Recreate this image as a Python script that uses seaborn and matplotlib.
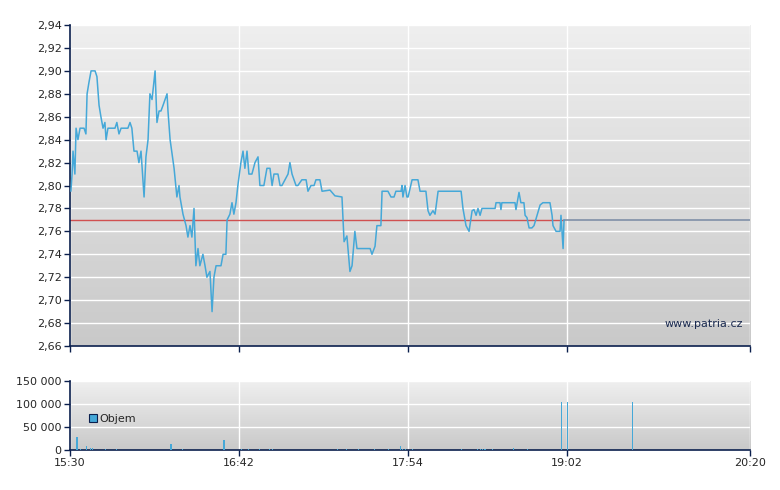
import numpy as np
import pandas as pd
import matplotlib
matplotlib.use("Agg")
import matplotlib.pyplot as plt
import seaborn as sns

# minutes after 15:30
price_min = [0.4,0.9,1.3,2.1,2.6,3.4,4.3,6.0,6.8,7.3,8.1,9.0,10.7,11.5,12.4,13.2,14.1,14.9,15.4,16.2,19.2,20.0,20.9,21.8,24.7,25.6,26.4,27.3,28.6,29.4,30.3,31.6,32.4,33.3,34.1,35.0,36.3,37.1,38.0,38.8,39.7,41.4,41.8,42.7,44.4,45.6,46.5,46.9,48.2,49.5,50.3,51.2,52.0,52.9,53.7,54.6,55.4,56.7,57.6,58.4,59.7,60.6,61.4,62.3,64.4,65.3,66.5,67.0,68.2,69.1,69.9,70.8,71.6,72.9,73.8,74.6,75.5,76.3,77.6,78.9,80.2,81.0,82.7,84.0,85.3,86.2,87.0,88.7,89.6,90.4,93.0,93.8,94.7,96.4,97.2,98.9,100.7,101.5,102.8,104.1,104.9,106.6,107.5,
             110.9,113.0,116.0,116.9,118.1,119.4,120.3,121.5,122.4,123.7,128.0,128.8,130.1,130.9,132.6,133.1,135.6,136.9,138.2,139.0,141.2,141.6,142.0,142.9,143.7,144.2,145.9,148.4,149.3,151.8,152.7,153.5,154.8,155.7,157.0,166.8,167.6,168.9,170.2,171.5,172.3,173.2,174.0,174.9,175.7,181.3,181.7,183.4,183.8,184.2,189.8,190.2,191.5,192.3,193.6,194.1,194.9,195.8,197.0,197.9,200.5,201.7,204.7,205.6,206.0,207.3,209.0,209.4,210.3,210.7]
price_val = [2.795,2.81,2.83,2.81,2.85,2.84,2.85,2.85,2.845,2.88,2.89,2.90,2.90,2.895,2.87,2.86,2.85,2.855,2.84,2.85,2.85,2.855,2.845,2.85,2.85,2.855,2.85,2.83,2.83,2.82,2.83,2.79,2.825,2.84,2.88,2.875,2.90,2.855,2.865,2.865,2.87,2.88,2.865,2.84,2.815,2.79,2.80,2.79,2.775,2.765,2.755,2.765,2.755,2.78,2.73,2.745,2.73,2.74,2.73,2.72,2.725,2.69,2.72,2.73,2.73,2.74,2.74,2.77,2.775,2.785,2.775,2.785,2.80,2.82,2.83,2.815,2.83,2.81,2.81,2.82,2.825,2.80,2.80,2.815,2.815,2.80,2.81,2.81,2.80,2.80,2.81,2.82,2.81,2.80,2.80,2.805,2.805,2.795,2.80,2.80,2.805,2.805,2.795,
             2.796,2.791,2.79,2.751,2.756,2.725,2.73,2.76,2.745,2.745,2.745,2.74,2.747,2.765,2.765,2.795,2.795,2.79,2.79,2.795,2.795,2.80,2.79,2.80,2.79,2.79,2.805,2.805,2.795,2.795,2.778,2.774,2.778,2.775,2.795,2.795,2.78,2.765,2.76,2.778,2.779,2.774,2.78,2.774,2.78,2.78,2.785,2.785,2.779,2.785,2.785,2.779,2.794,2.785,2.785,2.774,2.772,2.763,2.763,2.765,2.783,2.785,2.785,2.774,2.765,2.76,2.76,2.774,2.745,2.77]
ref_price = 2.77
vol_min = [3.0,4.5,7.2,8.6,9.5,15.0,20.0,42.9,43.2,48.0,65.4,66.1,73.0,76.0,81.0,85.0,86.5,114.0,118.0,123.0,130.0,136.0,141.0,142.0,143.0,146.0,167.0,174.0,175.0,176.0,177.0,180.0,189.0,195.0,209.8,212.2,240.1]
vol_val = [29000,2000,8000,5000,5000,2500,1500,13000,13000,2000,22000,22000,2000,2000,2000,1500,1500,3000,3000,2500,2000,2000,8000,2500,2500,1500,2000,2000,2000,2000,2000,2000,4000,3000,105000,105000,105000]
tick_labels = ["15:30","16:42","17:54","19:02","20:20"]
tick_pos = [0,72,144,212,290]

sns.set_theme(style="white")
fig = plt.figure(figsize=(7.8,4.9), dpi=100)
ax = fig.add_axes([0.0897,0.2939,0.8718,0.655])
ax2 = fig.add_axes([0.0897,0.0816,0.8718,0.1408])
grad = np.linspace(0,1,256).reshape(-1,1)
cmap = matplotlib.colors.LinearSegmentedColormap.from_list("g",["#efefef","#c9c9c9"])
for a in (ax,ax2):
    a.imshow(grad, cmap=cmap, aspect="auto", extent=[0,1,0,1], origin="upper",
             transform=a.transAxes, zorder=0)
    a.set_xlim(0,290)
    a.set_xticks(tick_pos)
    a.grid(True, color="white", lw=1, zorder=1)
    for s in ("top","right"):
        a.spines[s].set_visible(False)
    for s in ("left","bottom"):
        a.spines[s].set_color("#0b1f4d"); a.spines[s].set_linewidth(1.2)
    a.tick_params(axis="both", direction="out", length=4, color="#0b1f4d", labelsize=8, width=1, left=True, bottom=True, pad=2)

df = pd.DataFrame({"t":price_min,"p":price_val})
ax.axhline(ref_price, xmin=0, xmax=210.7/290, color="#d05050", lw=1, zorder=2)
ax.axhline(ref_price, xmin=210.7/290, xmax=1, color="#8090a8", lw=1.2, zorder=2)
sns.lineplot(data=df, x="t", y="p", ax=ax, color="#45a8d8", lw=1.1, zorder=3)
ax.set_ylim(2.66,2.94)
ax.set_yticks(np.arange(2.66,2.9401,0.02))
ax.set_yticklabels([f"{v:.2f}".replace(".",",") for v in np.arange(2.66,2.9401,0.02)])
ax.set_xticklabels([])
ax.set_xlabel(""); ax.set_ylabel("")
ax.text(0.99,0.06,"www.patria.cz",transform=ax.transAxes,ha="right",fontsize=8,color="#1a2a50",zorder=4)

ax2.bar(vol_min, vol_val, width=0.45, color="#45a8d8", linewidth=0, zorder=3, label="Objem")
ax2.set_ylim(0,150000)
ax2.set_yticks([0,50000,100000,150000])
ax2.set_yticklabels(["0","50 000","100 000","150 000"])
ax2.set_xticklabels(tick_labels)
leg = ax2.legend(loc="center left", bbox_to_anchor=(0.008,0.45), fontsize=8, frameon=True,
                 fancybox=False, edgecolor="black", handlelength=0.7, handleheight=0.7,
                 borderpad=0.7, handletextpad=0.3, framealpha=0)
leg.legend_handles[0].set_edgecolor("#0b1f4d"); leg.legend_handles[0].set_linewidth(0.8)
leg.get_frame().set_linewidth(1)
fig.savefig("out.png", dpi=100)
